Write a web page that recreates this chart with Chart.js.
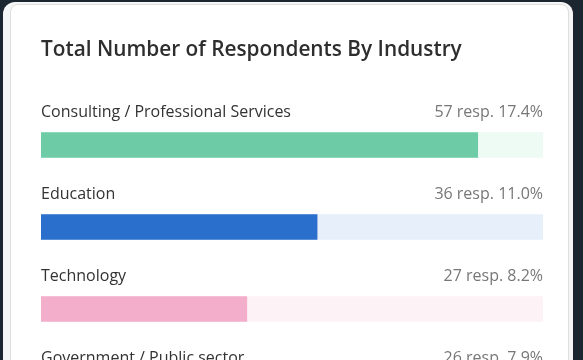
<!DOCTYPE html>
<html>
<head>
<meta charset="utf-8">
<script src="https://cdn.jsdelivr.net/npm/chart.js@4.4.1/dist/chart.umd.min.js"></script>
<style>
  html, body { margin: 0; padding: 0; }
  body { width: 583px; height: 360px; overflow: hidden; background: #1c2631; position: relative; }
  #frame { position: absolute; left: 3px; top: 2px; width: 570px; height: 420px; background: #f6f6f6; border-radius: 12px; }
  #card { position: absolute; left: 10px; top: 4px; width: 557px; height: 440px; background: #fff;
          border: 1px solid #dedede; border-radius: 8px; }
  #wrap { position: absolute; left: 0; top: 0; width: 557px; height: 440px; }
</style>
</head>
<body>
<div id="frame"></div>
<div id="card"><div id="wrap"><canvas id="chart-canvas"></canvas></div></div>
<script>
// values
const industries = ["Consulting / Professional Services", "Education", "Technology", "Government / Public sector"];
const respondents = [57, 36, 27, 26];
const shares = [17.4, 11.0, 8.2, 7.9];   // percent of all respondents
const axisMax = 20;                      // bars are drawn against 20 %

const fillColors = ["#6dcba6", "#2a6fcb", "#f3aecb", "#f5c46e"];
const trackColors = ["#eefaf4", "#e7effa", "#fdf2f6", "#fef6ea"];
const FONT = "'Open Sans', 'Noto Sans', sans-serif";

// Draw the industry name and count above each bar
const rowLabels = {
    id: "rowLabels",
    afterDatasetsDraw(chart) {
        const ctx = chart.ctx;
        const fills = chart.getDatasetMeta(1).data;
        const tracks = chart.getDatasetMeta(0).data;
        ctx.save();
        ctx.textBaseline = "middle";
        ctx.font = "16px " + FONT;
        fills.forEach(function(bar, i){
            const y = bar.y - bar.height / 2 - 20;
            ctx.fillStyle = "#333333";
            ctx.textAlign = "left";
            ctx.fillText(industries[i], bar.base, y);
            ctx.fillStyle = "#777777";
            ctx.textAlign = "right";
            ctx.fillText(respondents[i] + " resp. " + shares[i].toFixed(1) + "%", tracks[i].x, y);
        });
        ctx.restore();
    }
};

new Chart("chart-canvas", {
    type: "bar",
    data: {
        labels: industries,
        datasets: [
            { label: "track", data: industries.map(() => axisMax), backgroundColor: trackColors,
              barThickness: 25, order: 2 },
            { label: "share", data: shares, backgroundColor: fillColors,
              barThickness: 25, order: 1 }
        ]
    },
    options: {
        indexAxis: "y",
        responsive: true,
        maintainAspectRatio: false,
        animation: false,
        layout: { padding: { left: 30, right: 25, top: 30, bottom: 13 } },
        scales: {
            x: { display: false, min: 0, max: axisMax, stacked: false },
            y: { display: false, stacked: true }
        },
        plugins: {
            legend: { display: false },
            tooltip: { enabled: false },
            title: {
                display: true,
                text: "Total Number of Respondents By Industry",
                align: "start",
                color: "#2e2e2e",
                font: { family: FONT, size: 20.8, weight: "600" },
                padding: { top: 3, bottom: 41 }
            }
        }
    },
    plugins: [rowLabels]
});
</script>
</body>
</html>
